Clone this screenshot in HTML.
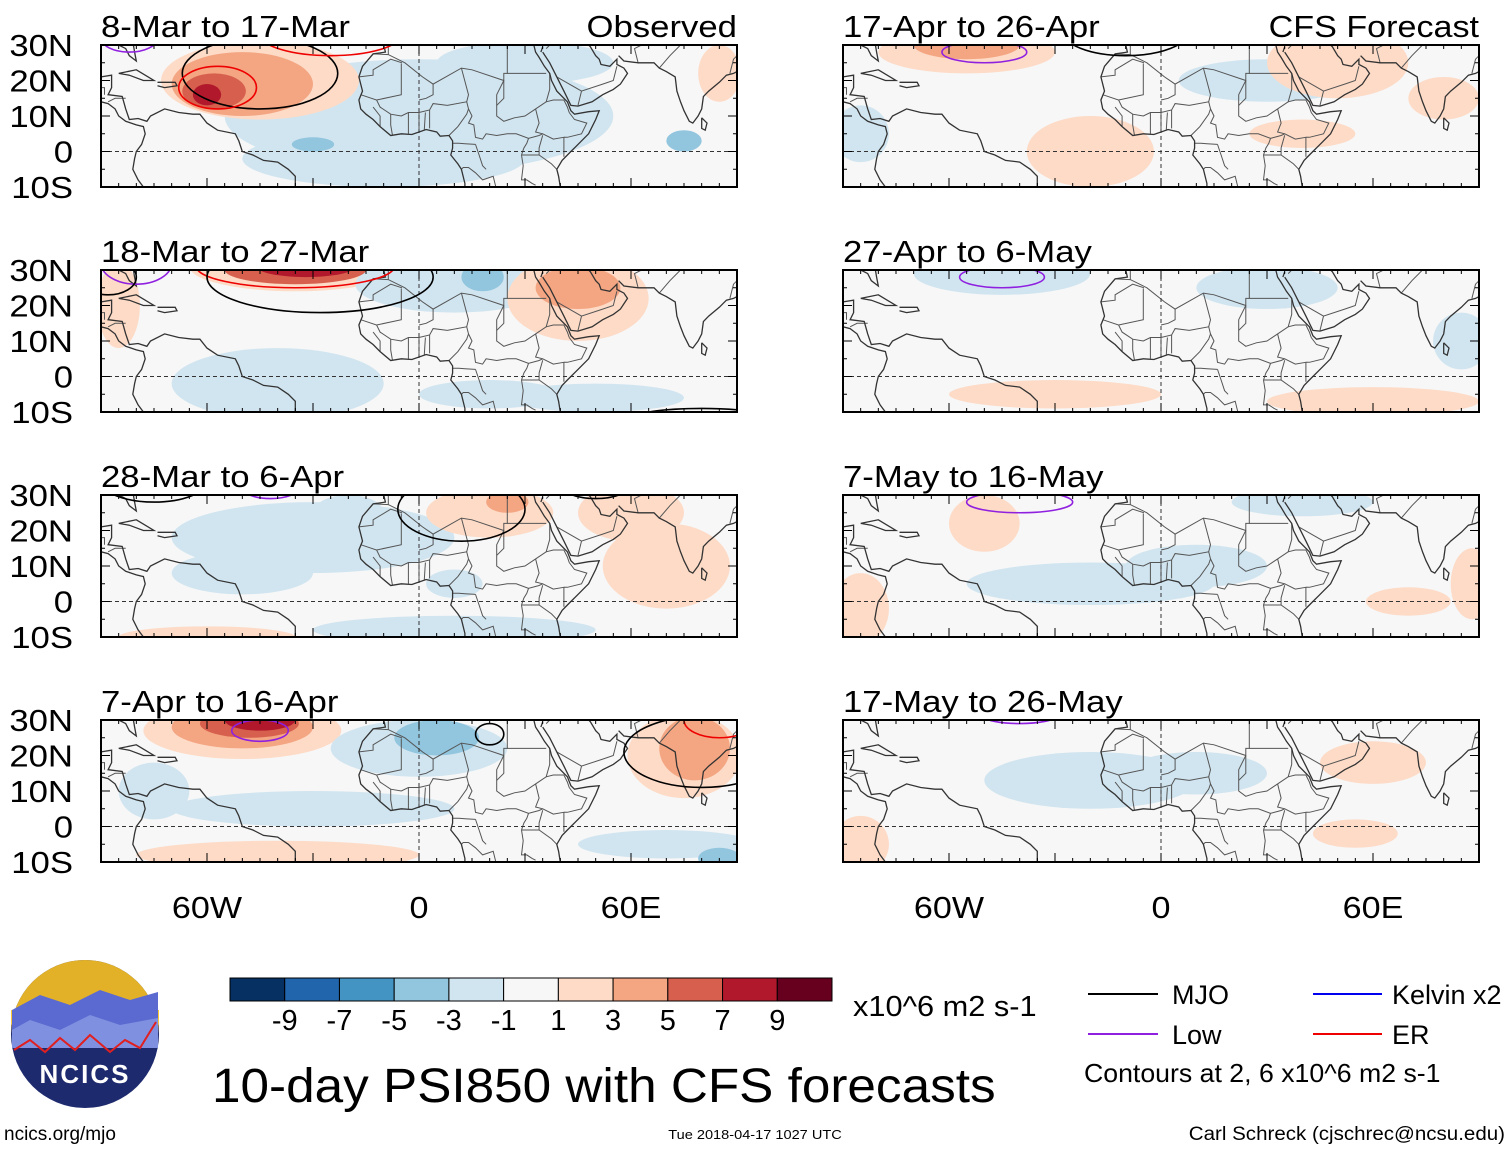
<!DOCTYPE html>
<html><head><meta charset="utf-8">
<style>
html,body{margin:0;padding:0;background:#fff;}
body{width:1510px;height:1149px;overflow:hidden;font-family:"Liberation Sans",sans-serif;}
svg text{font-family:"Liberation Sans",sans-serif;}
</style></head>
<body>
<svg id="fig" width="1510" height="1149" viewBox="0 0 1510 1149" xmlns="http://www.w3.org/2000/svg">
<defs>
<clipPath id="pclip"><rect x="0" y="0" width="636" height="142"/></clipPath>
</defs>
<g id="panels"></g>
</svg>
<script>
// ---- data ----
const panelTitles = ["8-Mar to 17-Mar","18-Mar to 27-Mar","28-Mar to 6-Apr","7-Apr to 16-Apr","17-Apr to 26-Apr","27-Apr to 6-May","7-May to 16-May","17-May to 26-May"];
const latTicks = ["30N","20N","10N","0","10S"];
const latTickVals = [30,20,10,0,-10];
const lonTicks = ["60W","0","60E"];
const lonTickVals = [-60,0,60];
const levelColors = ["#67001f","#b2182b","#d6604d","#f4a582","#fddbc7","#f7f7f7","#d1e5f0","#92c5de","#4393c3","#2166ac","#053061"].reverse();
const levelLabels = ["-9","-7","-5","-3","-1","1","3","5","7","9"];
// anomaly blobs per panel: [lon, lat, rxDeg, ryDeg, level(-5..5)]
const blobs0 = [[0,10,55,16,-1],[-10,-2,40,8,-1],[-45,20,28,11,1],[-50,19,20,9,2],[-58,17,9,5,3],[-60,16,4,3,4],[-30,2,6,2,-2],[75,3,5,3,-2],[85,22,6,8,1],[30,25,25,6,-1]];
const blobs1 = [[-35,31,30,7,1],[-35,30,20,4,3],[-32,31,14,3,4],[-40,-2,30,10,-1],[10,26,28,8,-1],[18,28,6,4,-2],[45,22,20,12,1],[45,25,12,6,2],[-85,20,6,12,1],[20,-5,20,4,-1],[50,-6,25,4,-1]];
const blobs2 = [[-30,18,40,10,-1],[-50,8,20,6,-1],[-20,25,10,5,-1],[20,25,18,7,1],[25,28,6,3,2],[70,10,18,12,1],[60,25,15,8,1],[10,-8,40,4,-1],[-60,-10,25,3,1],[10,5,8,4,-1]];
const blobs3 = [[-50,27,28,8,1],[-50,28,20,6,2],[-48,29,14,4,3],[-45,30,10,3,4],[0,22,25,8,-1],[5,25,12,5,-2],[75,20,16,12,1],[78,22,10,9,2],[-30,5,40,5,-1],[-40,-8,40,4,1],[70,-5,25,4,-1],[85,-9,6,3,-2],[-75,10,10,8,-1]];
const blobs4 = [[-55,28,25,6,1],[-55,30,15,4,2],[-20,0,18,10,1],[30,20,25,6,-1],[50,25,20,10,1],[80,15,10,6,1],[40,5,15,4,1],[-85,5,8,8,-1]];
const blobs5 = [[-45,29,25,6,-1],[30,25,20,6,-1],[-30,-5,30,4,1],[60,-7,30,4,1],[85,10,8,8,-1]];
const blobs6 = [[-50,22,10,8,1],[-20,5,35,6,-1],[40,28,20,4,-1],[-85,-2,8,10,1],[70,0,12,4,1],[88,5,6,10,1],[10,10,20,6,-1]];
const blobs7 = [[-20,13,30,8,-1],[60,18,15,6,1],[-85,-5,8,8,1],[55,-2,12,4,1],[10,15,20,6,-1]];
const blobSets = [blobs0,blobs1,blobs2,blobs3,blobs4,blobs5,blobs6,blobs7];
// contours: [lon, lat, rxDeg, ryDeg, type]
const contours = [
 [[-45,22,22,10,"mjo"],[-57,18,11,6,"er"],[-25,33,20,6,"er"],[-82,32,8,4,"low"],[55,-13,45,3,"mjo"]],
 [[-35,31,28,6,"er"],[-28,28,32,10,"mjo"],[-80,32,10,6,"low"],[-88,28,8,5,"mjo"],[80,-12,20,3,"mjo"]],
 [[-75,34,15,6,"mjo"],[-42,32,8,3,"low"],[12,26,18,9,"mjo"],[50,33,10,4,"mjo"]],
 [[-45,27,8,3,"low"],[80,21,22,10,"mjo"],[20,26,4,3,"mjo"],[85,30,10,5,"er"]],
 [[-50,28,12,3,"low"],[-10,34,18,7,"mjo"]],
 [[-45,28,12,3,"low"]],
 [[-40,28,15,3,"low"]],
 [[-40,31,10,2,"low"]]
];
const contourColors = {mjo:"#000000",er:"#ee0000",low:"#9020e0",kelvin:"#0000ee"};
const coasts = [
 [[-90,30],[-85,30],[-83,29],[-82,27],[-80,25.5],[-80.5,28],[-81,31],[-80,33]],
 [[-90,21],[-87,21.5],[-87,18],[-88,16],[-84,15.5],[-83,12],[-82,9],[-79.5,9.3],[-77,8.5],[-76,10],[-72,12],[-68,11],[-64,10.5],[-62,10.5],[-60,8],[-57,6],[-52,5],[-51,3],[-50,0],[-47,-1],[-44,-2.5],[-40,-3],[-37,-5],[-35,-7],[-35,-10]],
 [[-90,14],[-88,13.5],[-86,12],[-85,10],[-83,8.5],[-80,7.5],[-78,7],[-77.5,5],[-78.5,2],[-80,0],[-80.5,-2],[-81,-5],[-79.5,-8],[-78,-10]],
 [[-85,22],[-80,23],[-75,20],[-78,20],[-82,21.5],[-85,22]],
 [[-74,19.5],[-69,19.5],[-68.5,18.5],[-72,18],[-74,18.5]],
 [[-10,30],[-9.5,28],[-13,27.5],[-16,24],[-17,21],[-16,17],[-17,14.5],[-16.5,12],[-15,10.5],[-13,9],[-11,7],[-8,4.5],[-5,5],[-2,4.8],[2,6.2],[5,5.5],[6,4.3],[8.5,4.5],[9.5,3],[9.5,1],[9,-1],[11,-3.5],[12,-5],[13,-9],[13,-10]],
 [[40,-10],[39.5,-7],[39,-5],[40.5,-2.5],[42,-1],[45,2],[48,5],[50,9],[51,11.5],[48,11.2],[44,10.5],[43,11.5],[42,14],[39,17],[37.5,20],[37,22],[35.5,24],[34,26.5],[33,28],[32.5,30]],
 [[34.5,28],[35,29.5]],
 [[35,28],[37,25],[39,21],[41,17],[43,13],[45,12.8],[49,14],[52,16],[55,17.5],[57,19],[59,22],[58,23.5],[56,24.5],[56,26],[54,24],[51.5,24.5],[51,26],[50,27],[48.5,29.5],[48,30]],
 [[56.5,27],[58,25.5],[62,25],[66.5,25],[68,23.5],[70,22.5],[72.5,21],[73,17],[74,14],[75,11.5],[76.5,8.5],[77.5,8],[79,10],[80,12],[80.5,15.5],[82,17],[85,19.5],[87,21.5],[89,22],[90,22.5]],
 [[80,9.5],[81.5,8],[81,6],[80,6.5],[80,9.5]],
 [[43.5,-12],[44,-15]],
 [[-18,30],[-17,30]]
];
const borders = [
 [[-13,27.5],[-8.7,27.3],[-4,25],[1,21],[4,19],[12,23.5],[15,23],[24,20],[24,22],[25,22],[25,30]],
 [[-8.7,27.3],[-8.7,30]],[[-17,21],[-13,21.5],[-13,23],[-8,26],[-4.8,25]],
 [[-16.5,16],[-12,14.5],[-11,12.5],[-8,10.5],[-5,10],[-3,11],[0,11],[3,11.7],[4,13.5],[8,13],[13.5,14],[14,12],[15,10],[14,8],[15.5,7.5],[16,4],[18,3.5],[19,5],[22,4.5],[25,5],[27.5,5],[31,3.7],[34,4.5],[35,5],[38,3.5],[41,4],[41,-1.5]],
 [[-5,24.8],[-5,16],[-12,14.5]],[[4,19],[4,16],[2,15],[0,14.5]],
 [[12,23.5],[14,16],[13.5,14]],[[24,20],[24,15],[22,13],[22,10],[24,8.5],[27,9.5],[30,10],[33,12],[36,14],[37,17.5],[37,22]],
 [[25,22],[31.5,22],[36,22]],[[22,13],[22,16],[24,20]],
 [[33,12],[34,8],[33,5.5],[35,5]],[[36,14],[38,14.5],[41,14.5],[42,12.5],[42.5,11]],[[42.5,11],[44,9],[47.5,8],[46,5],[42,4],[41,4]],
 [[-3,11],[-3,5]],[[0,11],[0,6]],[[1.5,6.2],[1.8,11]],[[3,6.5],[3,11.7]],[[8.5,4.5],[11,7],[13.5,10.5],[14,12]],
 [[-8,10.5],[-8,7.5],[-7.5,4.5]],[[-11,7],[-11,10],[-13,12.5]],
 [[9.5,2.3],[11.3,2.3],[13,2.2],[16,2]],[[12,-5],[12.5,-4.5],[14,-4.5],[16,-6],[18,-8],[21,-7],[22,-11]],
 [[16,2],[17,-1],[18,-4],[19,-5]],[[29,-1],[30,-1],[34,-1],[37.5,-3.5],[39,-5]],[[29,-1],[29.5,-4],[29,-8],[30.5,-8],[32,-9],[33,-9.5]],
 [[29,-1],[29.7,1],[30.5,2.3],[31,3.7]],[[34,-1],[34,1],[35,4.6]],
 [[39,21],[46,17],[52,19],[55,20],[56,24]],[[45,13],[46,17]],[[36,29],[39,32],[48,30]],
 [[62,25],[61,29],[63,30]],[[68,23.5],[71,27],[74,30]],[[88,22],[89,26],[90,27]],[[-89,16],[-89,18],[-92,18]],[[-88,14],[-86,15],[-83,15]]
];
const lon0=-90, lon1=90, lat0=-10, lat1=30, PW=636, PH=142;
const panelPos = [[101,45],[101,270],[101,495],[101,720],[843,45],[843,270],[843,495],[843,720]];
// ---- drawing ----
const NS="http://www.w3.org/2000/svg";
const svg=document.getElementById('fig');
function mk(tag,attrs,parent){const e=document.createElementNS(NS,tag);for(const k in attrs)e.setAttribute(k,attrs[k]);(parent||svg).appendChild(e);return e;}
function xs(lon){return (lon-lon0)/(lon1-lon0)*PW;}
function ys(lat){return (lat1-lat)/(lat1-lat0)*PH;}
function lvlColor(l){return levelColors[l+5];}
function pts(line){return line.map(p=>xs(p[0]).toFixed(1)+","+ys(p[1]).toFixed(1)).join(" ");}
const root=document.getElementById('panels');
panelPos.forEach((pp,i)=>{
  const g=mk('g',{transform:`translate(${pp[0]},${pp[1]})`},root);
  
  
  const inner=mk('g',{'clip-path':'url(#pclip)'},g);
  mk('rect',{x:0,y:0,width:PW,height:PH,fill:'#f7f7f7'},inner);
  const sorted=blobSets[i].slice().sort((a,b)=>Math.abs(a[4])-Math.abs(b[4]));
  sorted.forEach(b=>{
    const el=mk('ellipse',{cx:xs(b[0]),cy:ys(b[1]),rx:xs(b[0]+b[2])-xs(b[0]),ry:ys(b[1]-b[3])-ys(b[1]),fill:lvlColor(b[4])},inner);
    
    
  });
  borders.forEach(l=>mk('polyline',{points:pts(l),fill:'none',stroke:'#555',"stroke-width":1},inner));
  coasts.forEach(l=>mk('polyline',{points:pts(l),fill:'none',stroke:'#333',"stroke-width":1.3},inner));
  mk('line',{x1:0,y1:ys(0),x2:PW,y2:ys(0),stroke:'#333','stroke-dasharray':'4,3','stroke-width':1},inner);
  mk('line',{x1:xs(0),y1:0,x2:xs(0),y2:PH,stroke:'#333','stroke-dasharray':'4,3','stroke-width':1},inner);
  contours[i].forEach(c=>{
    const el=mk('ellipse',{cx:xs(c[0]),cy:ys(c[1]),rx:xs(c[0]+c[2])-xs(c[0]),ry:ys(c[1]-c[3])-ys(c[1]),fill:'none',stroke:contourColors[c[4]],'stroke-width':1.6},inner);
    
    
  });
  mk('rect',{x:0,y:0,width:PW,height:PH,fill:'none',stroke:'#000','stroke-width':2},g);
  for(let lo=lon0;lo<=lon1;lo+=5){const x=xs(lo),L=(lo%30===0)?9:4;
    mk('line',{x1:x,y1:0,x2:x,y2:L,stroke:'#000'},g);mk('line',{x1:x,y1:PH,x2:x,y2:PH-L,stroke:'#000'},g);}
  for(let la=lat0;la<=lat1;la+=5){const y=ys(la),L=(la%10===0)?9:4;
    mk('line',{x1:0,y1:y,x2:L,y2:y,stroke:'#000'},g);mk('line',{x1:PW,y1:y,x2:PW-L,y2:y,stroke:'#000'},g);}
  const t=mk('text',{x:0,y:-8,'font-size':31,'data-s':'1.12'},g);t.textContent=panelTitles[i];
  
  
  if(i<4){latTicks.forEach((lab,k)=>{const tt=mk('text',{x:-28,y:ys(latTickVals[k])+11,'font-size':31,'text-anchor':'end','data-s':'1.12'},g);tt.textContent=lab;
    });}
  if(i===0){const o=mk('text',{x:PW,y:-8,'font-size':31,'text-anchor':'end','data-s':'1.12'},g);o.textContent="Observed";}
  if(i===4){const o=mk('text',{x:PW,y:-8,'font-size':31,'text-anchor':'end','data-s':'1.1'},g);o.textContent="CFS Forecast";}
  if(i===3||i===7){lonTicks.forEach((lab,k)=>{const tt=mk('text',{x:xs(lonTickVals[k]),y:PH+56,'font-size':31,'text-anchor':'middle','data-s':'1.1'},g);tt.textContent=lab;
    });}
});
// colorbar
const cb=mk('g',{transform:'translate(230,978)'});


const cw=602/11;
levelColors.forEach((c,k)=>{mk('rect',{x:k*cw,y:0,width:cw,height:23,fill:c,stroke:'#000','stroke-width':1},cb);});
levelLabels.forEach((l,k)=>{const t=mk('text',{x:(k+1)*cw,y:52,'font-size':29,'text-anchor':'middle'},cb);t.textContent=l;});
</script>
<svg id="fig2" style="position:absolute;left:0;top:0" width="1510" height="1149" xmlns="http://www.w3.org/2000/svg">
 <text x="853" y="1016" font-size="29" data-s="1.06">x10^6 m2 s-1</text>
 <text x="212" y="1102" font-size="48" data-s="1.068">10-day PSI850 with CFS forecasts</text>
 <g>
  <line x1="1088" y1="994" x2="1158" y2="994" stroke="#000" stroke-width="2"/>
  <text x="1172" y="1004" font-size="27">MJO</text>
  <line x1="1088" y1="1034" x2="1158" y2="1034" stroke="#9020e0" stroke-width="2"/>
  <text x="1172" y="1044" font-size="27">Low</text>
  <line x1="1313" y1="994" x2="1382" y2="994" stroke="#0000ee" stroke-width="2"/>
  <text x="1392" y="1004" font-size="27">Kelvin x2</text>
  <line x1="1313" y1="1034" x2="1382" y2="1034" stroke="#ee0000" stroke-width="2"/>
  <text x="1392" y="1044" font-size="27">ER</text>
  <text x="1084" y="1082" font-size="26" data-s="1.026">Contours at 2, 6 x10^6 m2 s-1</text>
 </g>
 <g>
  <circle cx="85" cy="1034" r="74" fill="#1e2a6e"/>
  <path d="M11,1034 A74,74 0 0 1 159,1034 L159,1010 L11,1010 Z" fill="#f8c020" opacity="0.9"/>
  <path d="M12,1010 L40,995 L70,1005 L100,990 L130,1000 L158,992 L158,1030 L12,1030 Z" fill="#5a6ad0"/>
  <path d="M12,1030 L30,1020 L60,1030 L90,1015 L120,1025 L158,1018 L158,1048 L12,1048 Z" fill="#8090e0"/>
  <polyline points="14,1050 30,1040 45,1052 60,1038 75,1050 90,1035 110,1052 125,1040 140,1048 156,1022" fill="none" stroke="#e02020" stroke-width="2"/>
  <text x="85" y="1083" font-size="26" font-weight="bold" fill="#fff" text-anchor="middle" letter-spacing="2">NCICS</text>
 </g>
 <text x="4" y="1140" font-size="19">ncics.org/mjo</text>
 <text x="755" y="1139" font-size="13" data-s="1.12" text-anchor="middle">Tue 2018-04-17 1027 UTC</text>
 <text x="1505" y="1140" font-size="19" data-s="1.08" text-anchor="end">Carl Schreck (cjschrec@ncsu.edu)</text>
</svg>
<script>
document.querySelectorAll('text[data-s]').forEach(t=>{
  const w=t.getComputedTextLength();
  const s=parseFloat(t.getAttribute('data-s'));
  if(w>0){t.setAttribute('textLength',(w*s).toFixed(1));t.setAttribute('lengthAdjust','spacingAndGlyphs');}
});
</script>
</body></html>
